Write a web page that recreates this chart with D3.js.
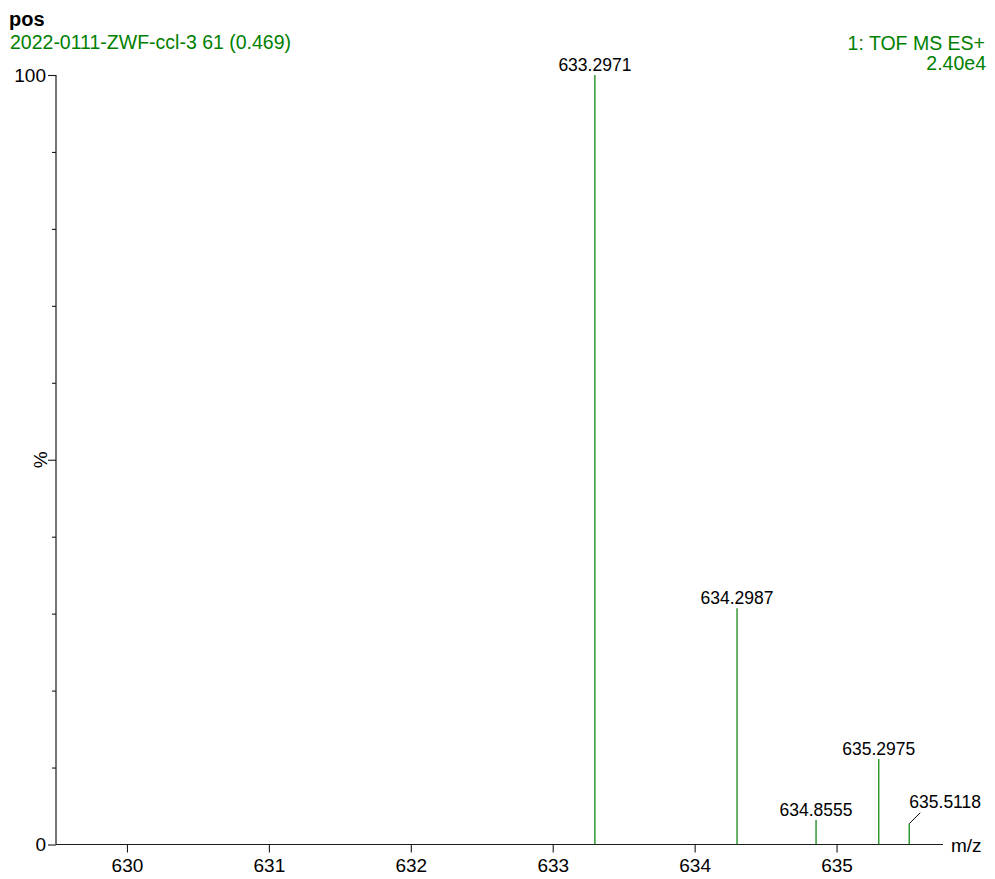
<!DOCTYPE html>
<html>
<head>
<meta charset="utf-8">
<script src="https://cdn.jsdelivr.net/npm/d3@7"></script>
<style>
  html, body { margin: 0; padding: 0; background: #fff; }
  svg { display: block; font-family: "Liberation Sans", Arial, sans-serif; }
</style>
</head>
<body>
<svg id="chart" width="995" height="879"></svg>
<script>
// ---- data ----
const peakMz = [633.2971, 634.2987, 634.8555, 635.2975, 635.5118];
const peakIntensity = [100, 30.7, 3.2, 11.1, 2.7];
const xTickValues = [630, 631, 632, 633, 634, 635];
const yTickValues = [0, 10, 20, 30, 40, 50, 60, 70, 80, 90, 100];
const xDomain = [629.5, 635.75];
const yDomain = [0, 100];
const headerLeft = ["pos", "2022-0111-ZWF-ccl-3 61 (0.469)"];
const headerRight = ["1: TOF MS ES+", "2.40e4"];
const xAxisTitle = "m/z";
const yAxisTitle = "%";

(function () {
// ---- layout ----
const svg = d3.select("#chart");
const plotLeft = 56, plotRight = 943, plotTop = 75, plotBottom = 844.5;
const green = "#008000";
const axisColor = "#1a1a1a";

const x = d3.scaleLinear().domain(xDomain).range([plotLeft, plotRight]);
const y = d3.scaleLinear().domain(yDomain).range([plotBottom, plotTop]);

// headers
svg.append("text").attr("x", 9).attr("y", 26)
  .attr("font-size", 20).attr("font-weight", "bold").attr("fill", "#000")
  .text(headerLeft[0]);
svg.append("text").attr("x", 10).attr("y", 49)
  .attr("font-size", 19.5).attr("fill", green)
  .text(headerLeft[1]);
svg.append("text").attr("x", 985).attr("y", 49.5).attr("text-anchor", "end")
  .attr("font-size", 19.5).attr("fill", green)
  .text(headerRight[0]);
svg.append("text").attr("x", 986).attr("y", 69.5).attr("text-anchor", "end")
  .attr("font-size", 19.5).attr("fill", green)
  .text(headerRight[1]);

// y axis
const yAxis = d3.axisLeft(y).tickValues(yTickValues)
  .tickSize(0).tickFormat(d => (d === 0 || d === 100) ? d : "");
const gy = svg.append("g").attr("transform", `translate(${plotLeft},0)`).call(yAxis);
gy.select(".domain").remove();
gy.append("line").attr("x1", 0).attr("x2", 0)
  .attr("y1", y(100)).attr("y2", y(0)).attr("stroke", axisColor).attr("stroke-width", 1.2);
gy.selectAll(".tick line")
  .attr("x2", d => (d % 50 === 0) ? -8 : -4)
  .attr("stroke", axisColor).attr("stroke-width", 1.1);
gy.selectAll(".tick text")
  .attr("x", -10).attr("font-size", 19).attr("fill", "#000")
  .attr("font-family", "Liberation Sans, Arial, sans-serif");

// y title
svg.append("text")
  .attr("transform", `translate(47,${y(50)}) rotate(-90)`)
  .attr("text-anchor", "middle")
  .attr("font-size", 19).attr("fill", "#000")
  .text(yAxisTitle);

// x axis
const xAxis = d3.axisBottom(x).tickValues(xTickValues).tickSize(8).tickPadding(6)
  .tickFormat(d3.format("d"));
const gx = svg.append("g").attr("transform", `translate(0,${plotBottom})`).call(xAxis);
gx.select(".domain").remove();
gx.append("line").attr("x1", plotLeft).attr("x2", plotRight)
  .attr("y1", 0).attr("y2", 0).attr("stroke", axisColor).attr("stroke-width", 1.2);
gx.selectAll(".tick line").attr("stroke", axisColor).attr("stroke-width", 1.1);
gx.selectAll(".tick text").attr("font-size", 19).attr("fill", "#000")
  .attr("font-family", "Liberation Sans, Arial, sans-serif");

svg.append("text").attr("x", 951).attr("y", 852)
  .attr("font-size", 19).attr("fill", "#000").text(xAxisTitle);

// peaks
const peaks = peakMz.map((m, i) => ({ mz: m, v: peakIntensity[i] }));
svg.append("g").selectAll("line").data(peaks).join("line")
  .attr("x1", d => x(d.mz)).attr("x2", d => x(d.mz))
  .attr("y1", y(0)).attr("y2", d => y(d.v))
  .attr("stroke", green).attr("stroke-width", 1.2);

// labels (last one offset with leader line)
const lastIdx = peaks.length - 1;
const labelG = svg.append("g");
peaks.forEach((d, i) => {
  const px = x(d.mz), py = y(d.v);
  if (i === lastIdx) {
    labelG.append("line")
      .attr("x1", px).attr("y1", py)
      .attr("x2", px + 11).attr("y2", py - 11)
      .attr("stroke", "#000").attr("stroke-width", 1);
    labelG.append("text")
      .attr("x", px + 36).attr("y", py - 16)
      .attr("text-anchor", "middle").attr("font-size", 17.5).attr("fill", "#000")
      .text(d.mz.toFixed(4));
  } else {
    labelG.append("text")
      .attr("x", px).attr("y", py - 4)
      .attr("text-anchor", "middle").attr("font-size", 17.5).attr("fill", "#000")
      .text(d.mz.toFixed(4));
  }
});
})();
</script>
</body>
</html>
